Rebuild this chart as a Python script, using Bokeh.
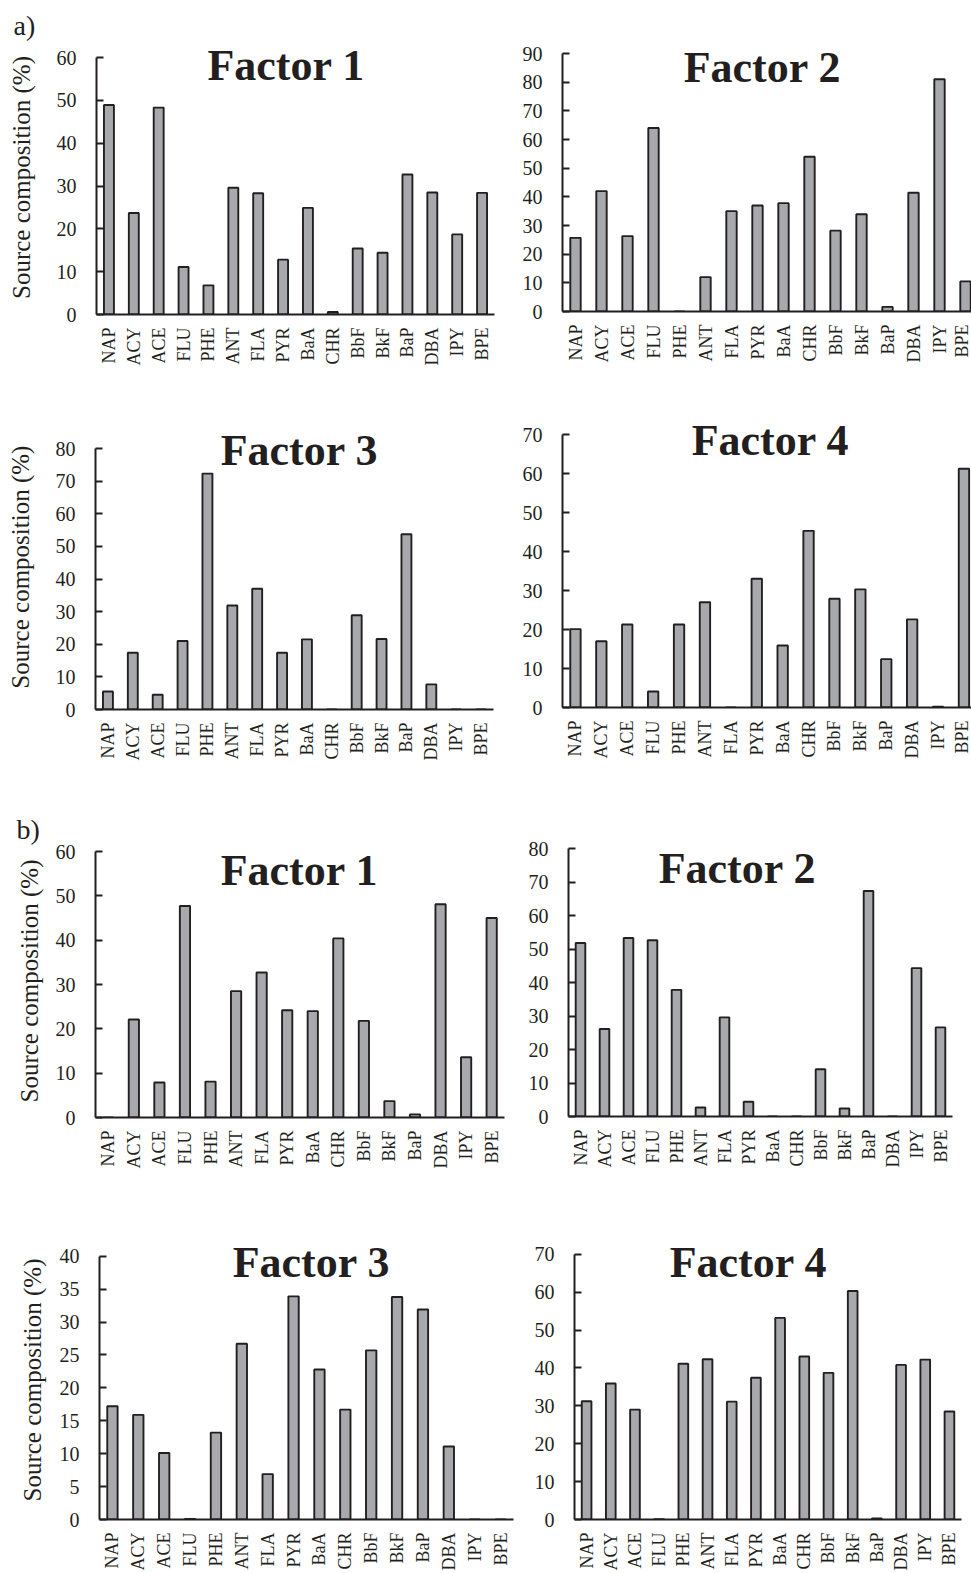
import math
from bokeh.plotting import figure
from bokeh.models import Range1d, FixedTicker, Label, Title
from bokeh.layouts import column, row
from bokeh.embed import file_html
from bokeh.resources import INLINE

compounds = ["NAP", "ACY", "ACE", "FLU", "PHE", "ANT", "FLA", "PYR",
             "BaA", "CHR", "BbF", "BkF", "BaP", "DBA", "IPY", "BPE"]

a_factor1 = [48.9, 23.7, 48.3, 11.1, 6.8, 29.6, 28.3, 12.8, 24.9, 0.6, 15.4, 14.4, 32.7, 28.5, 18.7, 28.4]
a_factor2 = [25.7, 42.0, 26.3, 64.0, 0, 12.0, 35.0, 37.0, 37.8, 54.0, 28.2, 33.9, 1.6, 41.4, 81.0, 10.5]
a_factor3 = [5.5, 17.4, 4.5, 21.0, 72.3, 31.9, 37.0, 17.4, 21.5, 0, 28.9, 21.6, 53.7, 7.7, 0, 0]
a_factor4 = [20.1, 17.0, 21.3, 4.1, 21.3, 27.0, 0, 33.0, 15.9, 45.3, 27.9, 30.3, 12.4, 22.6, 0.2, 61.2]
b_factor1 = [0, 22.1, 7.9, 47.7, 8.1, 28.5, 32.7, 24.2, 24.0, 40.4, 21.8, 3.7, 0.7, 48.1, 13.6, 45.0]
b_factor2 = [51.8, 26.1, 53.3, 52.6, 37.8, 2.7, 29.6, 4.4, 0, 0, 14.1, 2.4, 67.3, 0, 44.3, 26.6]
b_factor3 = [17.2, 15.9, 10.1, 0.1, 13.2, 26.7, 6.9, 33.9, 22.8, 16.7, 25.7, 33.8, 31.9, 11.1, 0, 0]
b_factor4 = [31.2, 35.9, 29.0, 0.1, 41.1, 42.3, 31.1, 37.4, 53.2, 43.0, 38.7, 60.3, 0.3, 40.8, 42.2, 28.5]

titles = ["Factor 1", "Factor 2", "Factor 3", "Factor 4"]
y_label = "Source composition (%)"
y_label_a3 = "Source composition  (%)"

INK = "#231f20"
BAR = "#a7a9ac"
SERIF = "Liberation Serif"


def panel(values, title, ymax, step, g, ylabel=None, ylabel_standoff=19, fixed_height=False):
    # g: page-pixel layout of the panel
    fw = g["R"] - g["L"]
    fh = g["Z"] - g["T"]
    bl = g["L"] - g["bl"]
    br = g["br"] - g["R"]
    bt = g["T"] - g["rt"]
    bb = g["rb"] - g["Z"]
    xend = -0.5 + fw / g["S"]
    yend = ymax * (g["Z"] - g["T"]) / (g["Z"] - g["Y"])
    tx = (g["cx"] - g["L"]) / g["S"] - 0.5
    ty = ymax * (g["Z"] - g["cy"]) / (g["Z"] - g["Y"])

    kw = dict(frame_width=fw, min_border_left=bl, min_border_right=br,
              min_border_top=bt, min_border_bottom=bb)
    if fixed_height:
        kw["height"] = g["rb"] - g["rt"]
    else:
        kw["frame_height"] = fh
    p = figure(x_range=Range1d(-0.5, xend), y_range=Range1d(0, yend),
               output_backend="svg", toolbar_location=None,
               background_fill_color="white", border_fill_color="white",
               outline_line_color=None, **kw)
    p.xgrid.visible = False
    p.ygrid.visible = False
    xs = list(range(len(compounds)))
    p.vbar(x=xs, top=values, width=0.4, fill_color=BAR,
           line_color=INK, line_width=1.9)

    xa = p.xaxis[0]
    xa.ticker = FixedTicker(ticks=xs)
    xa.major_label_overrides = {i: c for i, c in zip(xs, compounds)}
    xa.major_label_orientation = math.pi / 2
    xa.major_tick_in = 0
    xa.major_tick_out = 0
    xa.minor_tick_line_color = None
    xa.major_label_standoff = 13
    xa.major_label_text_font = SERIF
    xa.major_label_text_font_size = "18px"
    xa.major_label_text_color = INK
    xa.axis_line_color = INK
    xa.axis_line_width = 2

    ya = p.yaxis[0]
    ya.bounds = (0, ymax)
    ya.ticker = FixedTicker(ticks=list(range(0, ymax + 1, step)))
    ya.major_tick_in = 7
    ya.major_tick_out = 0
    ya.major_tick_line_color = INK
    ya.major_tick_line_width = 1.8
    ya.minor_tick_line_color = None
    ya.major_label_standoff = 20
    ya.major_label_text_font = SERIF
    ya.major_label_text_font_size = "20px"
    ya.major_label_text_color = INK
    ya.axis_line_color = INK
    ya.axis_line_width = 2
    if ylabel:
        ya.axis_label = ylabel
        ya.axis_label_text_font = SERIF
        ya.axis_label_text_font_style = "normal"
        ya.axis_label_text_font_size = "25px"
        ya.axis_label_text_color = INK
        ya.axis_label_standoff = ylabel_standoff

    p.add_layout(Label(x=tx, y=ty, text=title, text_font=SERIF,
                       text_font_style="bold", text_font_size="44px",
                       text_align="center", text_baseline="middle",
                       text_color=INK))
    return p


# page-pixel layout: box left/right (bl/br), row top/bottom (rt/rb),
# frame left/right (L/R), category spacing S, frame top T (shared per row),
# zero line Z, top-tick line Y, title centre (cx, cy)
g_a1 = dict(bl=0, br=512, rt=0, rb=395, L=96, R=494, S=24.875, T=40, Z=314, Y=57, cx=285.7, cy=64.5)
g_a2 = dict(bl=512, br=971, rt=0, rb=395, L=562, R=971, S=26.0, T=40, Z=311, Y=53, cx=762, cy=67)
g_a3 = dict(bl=0, br=512, rt=395, rb=790, L=95, R=493, S=24.875, T=418, Z=709, Y=448, cx=299, cy=450)
g_a4 = dict(bl=512, br=971, rt=395, rb=790, L=562, R=971, S=25.9, T=418, Z=707, Y=434, cx=770, cy=440)
g_b1 = dict(bl=0, br=518, rt=790, rb=1215, L=95, R=504, S=25.56, T=844, Z=1117, Y=851, cx=299, cy=870)
g_b2 = dict(bl=518, br=963, rt=790, rb=1215, L=568, R=952, S=24.0, T=844, Z=1116, Y=848, cx=737, cy=868)
g_b3 = dict(bl=0, br=524, rt=1215, rb=1573, L=99, R=513, S=25.875, T=1240, Z=1524, Y=1256, cx=311, cy=1262)
g_b4 = dict(bl=524, br=971, rt=1215, rb=1573, L=574, R=961, S=24.19, T=1240, Z=1524, Y=1254, cx=748, cy=1262)

pa1 = panel(a_factor1, titles[0], 60, 10, g_a1, y_label, 19)
pa2 = panel(a_factor2, titles[1], 90, 10, g_a2)
pa3 = panel(a_factor3, titles[2], 80, 10, g_a3, y_label_a3, 19)
pa4 = panel(a_factor4, titles[3], 70, 10, g_a4)
pb1 = panel(b_factor1, titles[0], 60, 10, g_b1, y_label, 10)
pb2 = panel(b_factor2, titles[1], 80, 10, g_b2)
pb3 = panel(b_factor3, titles[2], 40, 5, g_b3, y_label, 11, fixed_height=True)
pb4 = panel(b_factor4, titles[3], 70, 10, g_b4, fixed_height=True)

pa1.add_layout(Title(text="a)", align="left", offset=18 - 96 - 5, standoff=0,
                     text_font=SERIF, text_font_style="normal",
                     text_font_size="28px", text_color=INK), "above")
pb1.add_layout(Title(text="b)", align="left", offset=21 - 95 - 5, standoff=0,
                     text_font=SERIF, text_font_style="normal",
                     text_font_size="28px", text_color=INK), "above")

layout = column(row(pa1, pa2), row(pa3, pa4), row(pb1, pb2), row(pb3, pb4))

with open("out.html", "w") as f:
    f.write(file_html(layout, INLINE))
